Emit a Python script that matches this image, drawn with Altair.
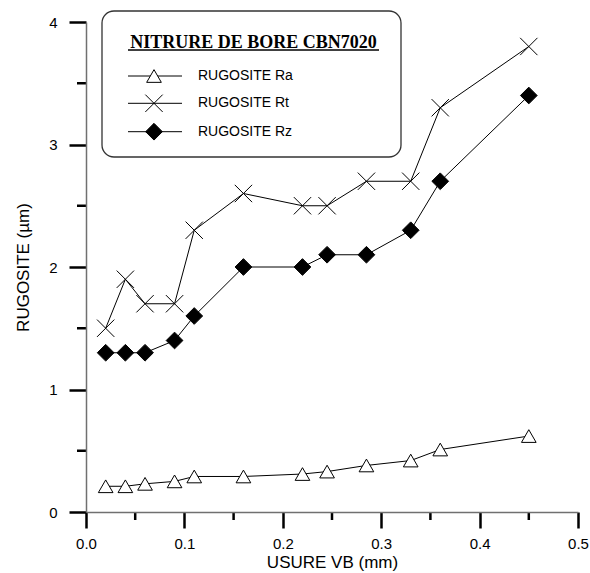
import altair as alt
import pandas as pd

# Usure en dépouille VB (mm) et rugosités mesurées (µm)
usure_vb = [0.02, 0.04, 0.06, 0.09, 0.11, 0.16, 0.22, 0.245, 0.285, 0.33, 0.36, 0.45]
rugosite_ra = [0.21, 0.21, 0.23, 0.25, 0.29, 0.29, 0.31, 0.33, 0.38, 0.42, 0.51, 0.62]
rugosite_rt = [1.5, 1.9, 1.7, 1.7, 2.3, 2.6, 2.5, 2.5, 2.7, 2.7, 3.3, 3.8]
rugosite_rz = [1.3, 1.3, 1.3, 1.4, 1.6, 2.0, 2.0, 2.1, 2.1, 2.3, 2.7, 3.4]
series_names = ["RUGOSITE Ra", "RUGOSITE Rt", "RUGOSITE Rz"]
legend_title = "NITRURE DE BORE CBN7020"

x_ticks = [0.0, 0.1, 0.2, 0.3, 0.4, 0.5]
y_ticks = [0, 1, 2, 3, 4]
x_minor = [0.05, 0.15, 0.25, 0.35, 0.45]
y_minor = [0.5, 1.5, 2.5, 3.5]

W, H = 492, 490
SANS = "Liberation Sans"
SERIF = "Liberation Serif"
CROSS = "M-1,-1L1,1M-1,1L1,-1"
TICK_W = 2.5

df = pd.DataFrame({
    "vb": usure_vb * 3,
    "r": rugosite_ra + rugosite_rt + rugosite_rz,
    "serie": [n for n in series_names for _ in usure_vb],
})

x_scale = alt.Scale(domain=[0, 0.5], nice=False, zero=False)
y_scale = alt.Scale(domain=[0, 4], nice=False, zero=False)

x_axis = alt.Axis(
    values=x_ticks, format=".1f", grid=False, labelFlush=False,
    tickSize=16, tickColor="black", tickWidth=TICK_W, zindex=2,
    domainColor="#707070", domainWidth=1.5,
    labelFont=SANS, labelFontSize=15, labelColor="black", labelPadding=8,
    title="USURE VB (mm)", titleFont=SANS, titleFontSize=17,
    titleFontWeight="normal", titleColor="black",
    titleBaseline="alphabetic", titleY=55,
)
y_axis = alt.Axis(
    values=y_ticks, format="d", grid=False, labelFlush=False,
    tickSize=17, tickColor="black", tickWidth=TICK_W, zindex=2,
    domainColor="#707070", domainWidth=1.5,
    labelFont=SANS, labelFontSize=15, labelColor="black", labelPadding=12,
    title="RUGOSITE (µm)", titleFont=SANS, titleFontSize=17,
    titleFontWeight="normal", titleColor="black",
    titleAngle=270, titleBaseline="alphabetic", titleAlign="center",
    titleX=-58, titleY=H / 2,
)

lines = alt.Chart(df).mark_line(color="black", strokeWidth=1).encode(
    x=alt.X("vb:Q", scale=x_scale, axis=x_axis),
    y=alt.Y("r:Q", scale=y_scale, axis=y_axis),
    detail="serie:N",
)

styles = {
    "RUGOSITE Ra": dict(shape="triangle-up", filled=True, fill="white", stroke="black", size=215),
    "RUGOSITE Rt": dict(shape=CROSS, filled=False, stroke="black", size=300),
    "RUGOSITE Rz": dict(shape="diamond", filled=True, fill="black", stroke="black", size=280),
}

points = []
for name in series_names:
    st = styles[name]
    points.append(
        alt.Chart(df).transform_filter(alt.datum.serie == name)
        .mark_point(opacity=1, strokeWidth=1, **st)
        .encode(
            x=alt.X("vb:Q", scale=x_scale),
            y=alt.Y("r:Q", scale=y_scale),
        )
    )

# Minor ticks on both axes
x_minor_ticks = alt.Chart(pd.DataFrame({"vb": x_minor})).mark_rule(
    color="black", strokeWidth=TICK_W
).encode(
    x=alt.X("vb:Q", scale=x_scale),
    y=alt.value(H), y2=alt.value(H + 8),
)
y_minor_ticks = alt.Chart(pd.DataFrame({"r": y_minor})).mark_rule(
    color="black", strokeWidth=TICK_W
).encode(
    y=alt.Y("r:Q", scale=y_scale),
    x=alt.value(-9), x2=alt.value(0),
)

# Legend box
one = pd.DataFrame({"k": [0]})
legend_layers = [
    alt.Chart(one).mark_rect(
        cornerRadius=12, fill="white", stroke="#333333", strokeWidth=1.3
    ).encode(x=alt.value(16), x2=alt.value(315), y=alt.value(-11), y2=alt.value(135)),
    alt.Chart(one).mark_text(
        font=SERIF, fontSize=18, fontWeight="bold", color="black",
        align="center", baseline="alphabetic"
    ).encode(x=alt.value(167.5), y=alt.value(26.3), text=alt.value(legend_title)),
    alt.Chart(one).mark_rule(color="black", strokeWidth=1.3).encode(
        x=alt.value(42), x2=alt.value(293), y=alt.value(28)
    ),
]
entry_y = [54, 81.3, 109.7]
for name, ey in zip(series_names, entry_y):
    st = styles[name]
    legend_layers.append(
        alt.Chart(one).mark_rule(color="black", strokeWidth=1).encode(
            x=alt.value(42), x2=alt.value(96), y=alt.value(ey)
        )
    )
    legend_layers.append(
        alt.Chart(one).mark_point(opacity=1, strokeWidth=1, **st).encode(
            x=alt.value(68), y=alt.value(ey)
        )
    )
    legend_layers.append(
        alt.Chart(one).mark_text(
            font=SANS, fontSize=14, color="black", align="left", baseline="middle"
        ).encode(x=alt.value(112), y=alt.value(ey), text=alt.value(name))
    )

chart = alt.layer(
    lines, *points, x_minor_ticks, y_minor_ticks, *legend_layers
).properties(
    width=W, height=H,
    background="white",
    autosize=alt.AutoSizeParams(type="none"),
    padding={"left": 86, "top": 22, "right": 12, "bottom": 61},
).configure_view(stroke=None)

chart.save("out.html", embed_options={"renderer": "svg", "actions": False})
